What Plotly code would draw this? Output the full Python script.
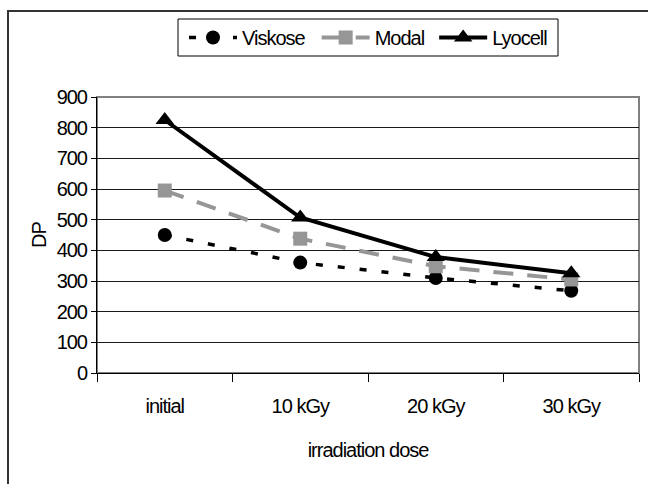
import plotly.graph_objects as go

# Degree of polymerisation after irradiation
doses = ["initial", "10 kGy", "20 kGy", "30 kGy"]
viskose = [450, 360, 310, 268]
modal = [595, 438, 348, 305]
lyocell = [825, 507, 378, 325]
y_ticks = [0, 100, 200, 300, 400, 500, 600, 700, 800, 900]

FONT = "Liberation Sans, Arial, sans-serif"
FS = 20
GRAY = "#969696"

fig = go.Figure()
fig.add_trace(go.Scatter(
    x=doses, y=viskose, name="Viskose", mode="lines+markers",
    line=dict(color="black", width=3.5, dash="7px,15px"),
    marker=dict(symbol="circle", size=14, color="black"),
))
fig.add_trace(go.Scatter(
    x=doses, y=modal, name="Modal", mode="lines+markers",
    line=dict(color=GRAY, width=4, dash="20px,14px"),
    marker=dict(symbol="square", size=14, color=GRAY),
))
fig.add_trace(go.Scatter(
    x=doses, y=lyocell, name="Lyocell", mode="lines+markers",
    line=dict(color="black", width=4),
    marker=dict(symbol="triangle-up", size=16, color="black"),
))

W, H = 648, 484
L, R, T, B = 97, 9, 97, 111
pw, ph = W - L - R, H - T - B

def px_x(p):
    return (p - L) / pw

def px_y(p):
    return (H - B - p) / ph

fig.update_layout(
    width=W, height=H,
    margin=dict(l=L, r=R, t=T, b=B),
    paper_bgcolor="white", plot_bgcolor="white",
    font=dict(family=FONT, size=FS, color="black"),
    showlegend=True,
    legend=dict(
        orientation="h",
        x=px_x(184), y=px_y(37.5), xanchor="left", yanchor="middle",
        borderwidth=0, bgcolor="rgba(0,0,0,0)",
        font=dict(family=FONT, size=FS, color="black"),
        itemwidth=48, tracegroupgap=0,
    ),
    xaxis=dict(
        type="category", range=[-0.5, 3.5],
        showline=True, linecolor="black", linewidth=1,
        ticks="outside", tickson="boundaries", ticklen=8, tickcolor="black",
        ticklabelstandoff=15,
        showgrid=False, zeroline=False,
        title=dict(text="irradiation dose", standoff=26,
                   font=dict(family=FONT, size=FS, color="black")),
    ),
    yaxis=dict(
        range=[0, 900], tickvals=y_ticks,
        showline=True, linecolor="black", linewidth=1,
        ticks="outside", ticklen=5, tickcolor="black",
        showgrid=True, gridcolor="#1a1a1a", gridwidth=1,
        zeroline=False,
        title=dict(text="DP", standoff=1,
                   font=dict(family=FONT, size=FS, color="black")),
    ),
    shapes=[
        # plot area frame (gray top and right edges)
        dict(type="rect", xref="paper", yref="paper", x0=0, x1=1, y0=0, y1=1,
             line=dict(color="#808080", width=2), layer="below"),
        # outer chart border
        dict(type="rect", xref="paper", yref="paper",
             x0=px_x(8), x1=px_x(660), y0=px_y(500), y1=px_y(11),
             line=dict(color="#333333", width=2), layer="below"),
        # legend frame
        dict(type="rect", xref="paper", yref="paper",
             x0=px_x(178), x1=px_x(558), y0=px_y(56), y1=px_y(19),
             line=dict(color="black", width=1), fillcolor="white", layer="below"),
    ],
)

# tight character spacing for all chart text
post = """
var gd = document.getElementById('{plot_id}');
function tighten() {
  gd.querySelectorAll('text').forEach(function (t) { t.style.letterSpacing = '-1px'; });
}
tighten();
gd.on('plotly_afterplot', tighten);
"""

fig.write_html("out.html", post_script=post)
